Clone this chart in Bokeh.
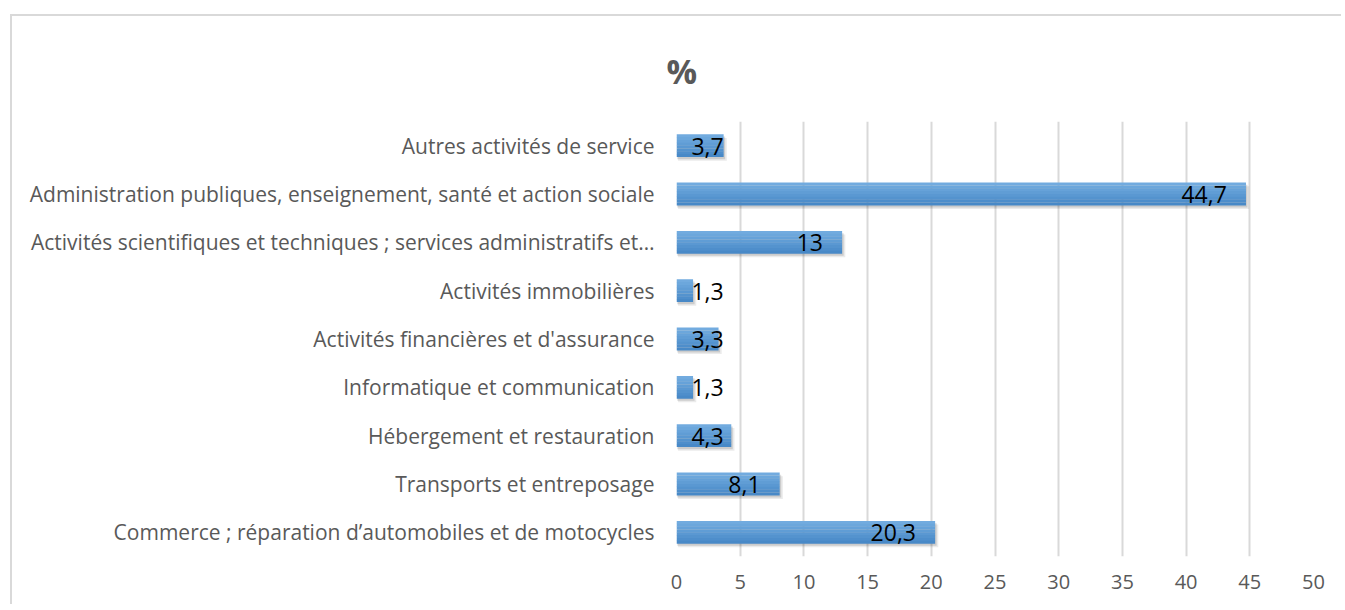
import numpy as np
from bokeh.plotting import figure
from bokeh.models import Range1d, FactorRange, ColumnDataSource, LabelSet, FixedTicker
from bokeh.transform import dodge
from bokeh.core.properties import value
from bokeh.embed import file_html
from bokeh.resources import INLINE

# ---- data (bottom to top) ----
categories = [
    "Commerce ; réparation d’automobiles et de motocycles",
    "Transports et entreposage",
    "Hébergement et restauration",
    "Informatique et communication",
    "Activités financières et d'assurance",
    "Activités immobilières",
    "Activités scientifiques et techniques ; services administratifs et…",
    "Administration publiques, enseignement, santé et action sociale",
    "Autres activités de service",
]
values = [20.3, 8.1, 4.3, 1.3, 3.3, 1.3, 13, 44.7, 3.7]
value_labels = ["20,3", "8,1", "4,3", "1,3", "3,3", "1,3", "13", "44,7", "3,7"]
x_ticks = [0, 5, 10, 15, 20, 25, 30, 35, 40, 45, 50]
x_tick_labels = ["0", "5", "10", "15", "20", "25", "30", "35", "40", "45", "50"]
title_text = "%"

FONT = "Open Sans"
GREY = "#595959"

vals = np.array(values, dtype=float)
src = ColumnDataSource(dict(
    cat=categories,
    val=vals,
    lab=value_labels,
    lab_x=np.maximum(vals - 1.5, 3.7),
    sh1=vals + 0.25,
    sh2=vals + 0.12,
))

p = figure(width=1331, height=590,
           y_range=FactorRange(*categories), x_range=Range1d(0, 50),
           output_backend="svg", toolbar_location=None,
           min_border_left=664, min_border_right=30,
           min_border_top=105, min_border_bottom=50,
           title=title_text)

# chart border (left and top edges visible in the window)
p.styles = {
    "margin-left": "10px",
    "margin-top": "14px",
    "border-left": "2px solid #d9d9d9",
    "border-top": "2px solid #d9d9d9",
}

BH = 0.47
# shadows
p.hbar(y=dodge("cat", -0.075, range=p.y_range), left=0.12, right="sh1", height=BH,
       source=src, fill_color="#000000", fill_alpha=0.08, line_color=None)
p.hbar(y=dodge("cat", -0.045, range=p.y_range), left=0.06, right="sh2", height=BH,
       source=src, fill_color="#000000", fill_alpha=0.13, line_color=None)

# gradient bands (top light -> bottom dark)
band_colors = ["#72abdf", "#6ca7dc", "#66a2d9", "#609dd5", "#5a98d2", "#5493ce", "#4e8ecb", "#4889c7"]
n = len(band_colors)
bh = BH / n
for i, c in enumerate(band_colors):
    off = BH / 2 - bh * (i + 0.5)
    p.hbar(y=dodge("cat", off, range=p.y_range), left=0, right="val", height=bh * 1.05,
           source=src, fill_color=c, line_color=None)

p.add_layout(LabelSet(x="lab_x", y=dodge("cat", -0.01, range=p.y_range), text="lab",
                      source=src, text_align="right", text_baseline="middle",
                      text_font=value(FONT), text_font_size="23px", text_color="#000000"))

# title
p.title.text_font = FONT
p.title.text_font_size = "34px"
p.title.text_font_style = "bold"
p.title.text_color = GREY
p.title.align = "left"
p.title.offset = -10
p.title.standoff = 56

# axes
p.xaxis.ticker = FixedTicker(ticks=x_ticks)
p.xaxis.major_label_overrides = {t: l for t, l in zip(x_ticks, x_tick_labels)}
for ax in (p.xaxis, p.yaxis):
    ax.axis_line_color = None
    ax.major_tick_line_color = None
    ax.minor_tick_line_color = None
    ax.major_tick_out = 0
    ax.major_tick_in = 0
    ax.major_label_text_font = FONT
    ax.major_label_text_color = GREY
p.xaxis.major_label_text_font_size = "20px"
p.xaxis.major_label_standoff = 18
p.yaxis.major_label_text_font_size = "21px"
p.yaxis.major_label_standoff = 22

p.xgrid.ticker = FixedTicker(ticks=x_ticks)
p.xgrid.grid_line_color = "#d9d9d9"
p.xgrid.grid_line_width = 2
p.ygrid.grid_line_color = None
p.outline_line_color = None
p.background_fill_color = "white"
p.border_fill_color = "white"

open("out.html", "w").write(file_html(p, INLINE))
